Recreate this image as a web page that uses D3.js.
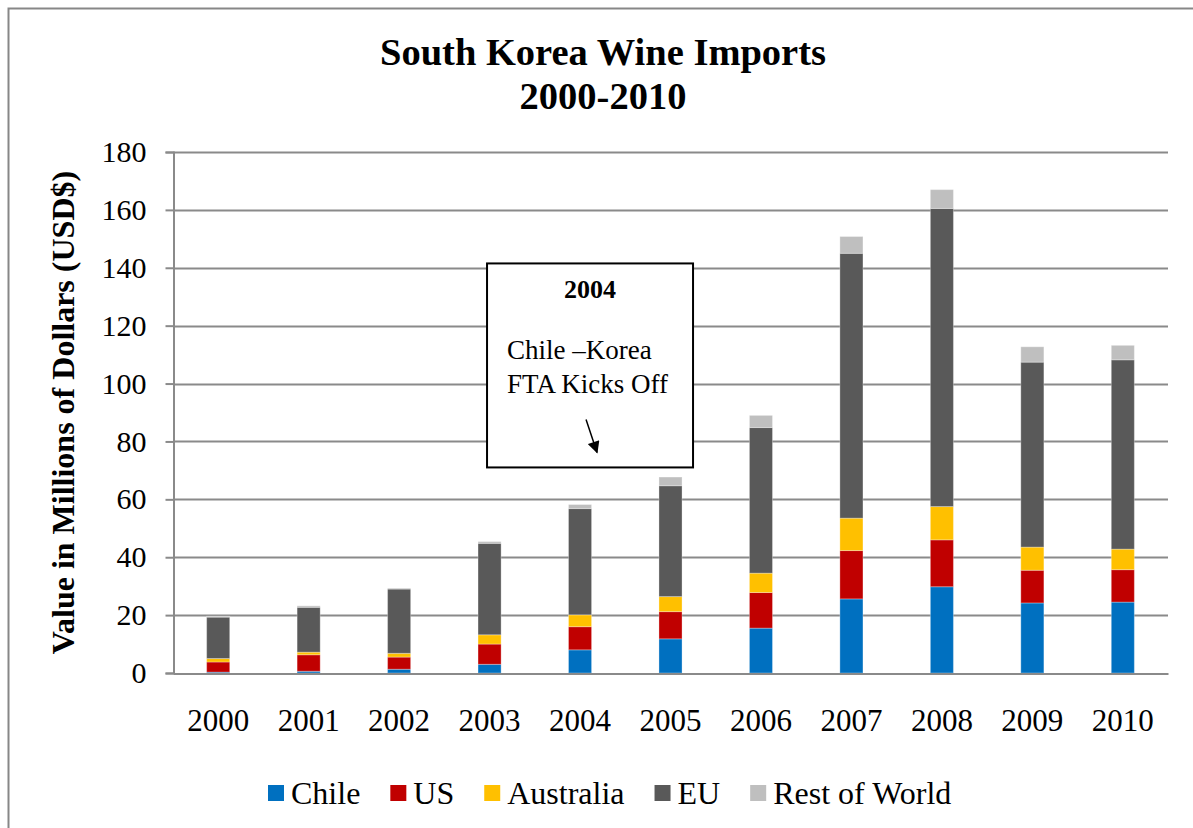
<!DOCTYPE html>
<html>
<head>
<meta charset="utf-8">
<script src="https://cdnjs.cloudflare.com/ajax/libs/d3/7.8.5/d3.min.js"></script>
<style>
  html, body { margin: 0; padding: 0; background: #fff; }
  svg text { font-family: "Liberation Serif", "Times New Roman", serif; fill: #000; }
</style>
</head>
<body>
<svg id="chart" width="1193" height="828"></svg>
<script>
// data (millions of USD)
var years = ["2000", "2001", "2002", "2003", "2004", "2005", "2006", "2007", "2008", "2009", "2010"];
var seriesNames = ["Chile", "US", "Australia", "EU", "Rest of World"];
var seriesColors = ["#0070C0", "#C00000", "#FFC000", "#595959", "#BFBFBF"];
var chile     = [0.3, 0.6, 1.3, 3.0, 8.0, 11.8, 15.5, 25.6, 29.8, 24.2, 24.5];
var us        = [3.5, 5.7, 4.2, 7.0, 8.0, 9.4, 12.3, 16.7, 16.2, 11.3, 11.2];
var australia = [1.2, 0.9, 1.3, 3.2, 4.1, 5.2, 6.7, 11.2, 11.5, 8.0, 7.1];
var eu        = [14.3, 15.5, 22.2, 31.6, 36.7, 38.3, 50.3, 91.5, 103.0, 63.9, 65.4];
var rest      = [0.3, 0.5, 0.3, 0.6, 1.4, 3.0, 4.2, 5.8, 6.5, 5.3, 5.0];
var yTicks = [0, 20, 40, 60, 80, 100, 120, 140, 160, 180];

var svg = d3.select("#chart"),
    width = +svg.attr("width"),
    height = +svg.attr("height");

var margin = {top: 152, right: 25, bottom: 155, left: 173};
var plotW = width - margin.left - margin.right,
    plotH = height - margin.top - margin.bottom;

// outer chart border
svg.append("rect")
    .attr("x", 8.5).attr("y", 8.5)
    .attr("width", width + 20).attr("height", height + 20)
    .attr("fill", "#fff")
    .attr("stroke", "#878787")
    .attr("stroke-width", 2);

var table = years.map(function (y, i) {
    return {year: y, "Chile": chile[i], "US": us[i], "Australia": australia[i], "EU": eu[i], "Rest of World": rest[i]};
});

var stacked = d3.stack().keys(seriesNames)(table);

var x = d3.scaleBand().domain(years).range([0, plotW]).paddingInner(0.745).paddingOuter(0.372);
var y = d3.scaleLinear().domain([0, 180]).range([plotH, 0]);
var color = d3.scaleOrdinal().domain(seriesNames).range(seriesColors);

var g = svg.append("g").attr("transform", "translate(" + margin.left + "," + margin.top + ")");

// gridlines
g.append("g").selectAll("line").data(yTicks.slice(1)).enter().append("line")
    .attr("x1", 0).attr("x2", plotW)
    .attr("y1", function (d) { return Math.round(y(d)) + 0.5; })
    .attr("y2", function (d) { return Math.round(y(d)) + 0.5; })
    .attr("stroke", "#8a8a8a")
    .attr("stroke-width", 2);

// y axis
var yAxis = g.append("g").attr("transform", "translate(0.5,0)")
    .call(d3.axisLeft(y).tickValues(yTicks).tickSize(8).tickPadding(19).tickFormat(d3.format("d")));
yAxis.select(".domain").attr("stroke", "#8a8a8a").attr("stroke-width", 2);
yAxis.selectAll(".tick line").attr("stroke", "#8a8a8a").attr("stroke-width", 2);
yAxis.selectAll(".tick text")
    .attr("font-size", 30)
    .attr("font-family", "Liberation Serif, Times New Roman, serif")
    .attr("fill", "#000");

// bars
g.append("g").selectAll("g").data(stacked).enter().append("g")
    .attr("fill", function (d) { return color(d.key); })
    .selectAll("rect").data(function (d) { return d; }).enter().append("rect")
    .attr("x", function (d) { return x(d.data.year); })
    .attr("width", x.bandwidth())
    .attr("y", function (d) { return y(d[1]); })
    .attr("height", function (d) { return Math.max(0, y(d[0]) - y(d[1])); })
    .attr("stroke", "rgba(255,255,255,0.3)")
    .attr("stroke-width", 1);

// x axis
var xAxis = g.append("g").attr("transform", "translate(0," + (plotH + 0.5) + ")")
    .call(d3.axisBottom(x).tickSize(0).tickPadding(35));
xAxis.select(".domain").attr("stroke", "#8a8a8a").attr("stroke-width", 2);
xAxis.selectAll(".tick text")
    .attr("font-size", 31)
    .attr("font-family", "Liberation Serif, Times New Roman, serif")
    .attr("fill", "#000");

// title
svg.append("text")
    .attr("x", 603).attr("y", 65)
    .attr("text-anchor", "middle")
    .attr("font-size", 38.5).attr("font-weight", "bold")
    .text("South Korea Wine Imports");
svg.append("text")
    .attr("x", 603).attr("y", 109)
    .attr("text-anchor", "middle")
    .attr("font-size", 38.5).attr("font-weight", "bold")
    .text("2000-2010");

// y axis title
svg.append("text")
    .attr("transform", "translate(74," + (margin.top + plotH / 2 - 0) + ") rotate(-90)")
    .attr("text-anchor", "middle")
    .attr("font-size", 32).attr("font-weight", "bold")
    .text("Value in Millions of Dollars (USD$)");

// annotation box
var bx = x("2004") + x.bandwidth() / 2 - 93, by = y(141.5);
var note = g.append("g").attr("transform", "translate(" + bx + "," + by + ")");
note.append("rect")
    .attr("width", 206).attr("height", 204)
    .attr("fill", "#fff").attr("stroke", "#000").attr("stroke-width", 2);
note.append("text").attr("x", 103).attr("y", 35)
    .attr("text-anchor", "middle").attr("font-size", 26).attr("font-weight", "bold")
    .text("2004");
note.append("text").attr("x", 20).attr("y", 96).attr("font-size", 27).text("Chile \u2013Korea");
note.append("text").attr("x", 20).attr("y", 130).attr("font-size", 27).text("FTA Kicks Off");
svg.append("defs").append("marker")
    .attr("id", "arrow").attr("viewBox", "0 0 10 10")
    .attr("refX", 9).attr("refY", 5)
    .attr("markerWidth", 9).attr("markerHeight", 8)
    .attr("orient", "auto-start-reverse")
    .append("path").attr("d", "M0,0L10,5L0,10z").attr("fill", "#000");
note.append("line")
    .attr("x1", 99).attr("y1", 156).attr("x2", 110).attr("y2", 189)
    .attr("stroke", "#000").attr("stroke-width", 1.5)
    .attr("marker-end", "url(#arrow)");

// legend, laid out left to right from measured text widths
var legend = svg.append("g").attr("class", "legend");
var lx = 268;
seriesNames.forEach(function (name) {
    var item = legend.append("g").attr("transform", "translate(" + lx + ",785)");
    item.append("rect").attr("width", 16).attr("height", 16).attr("fill", color(name));
    var t = item.append("text").attr("x", 23).attr("y", 19)
        .attr("font-size", 32)
        .text(name);
    lx += 23 + t.node().getComputedTextLength() + 30;
});
</script>
</body>
</html>
